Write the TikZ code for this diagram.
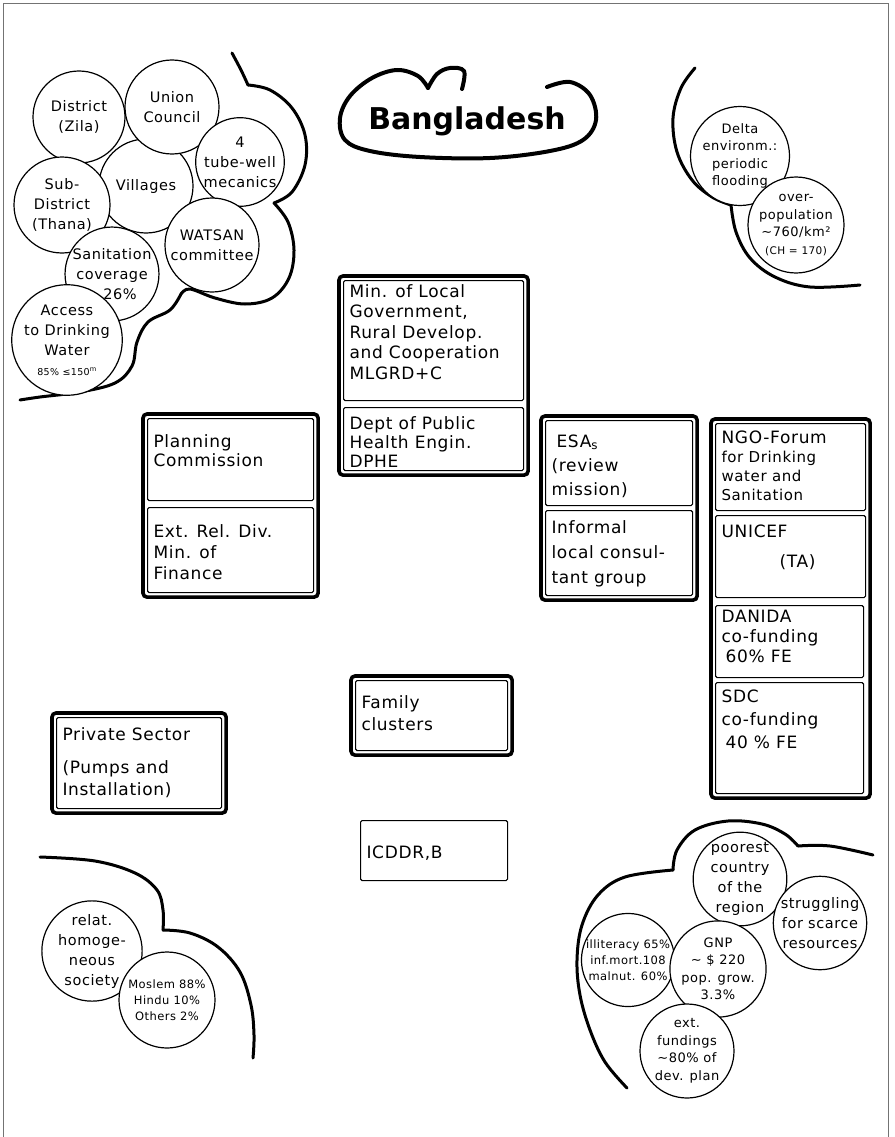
\documentclass[tikz,border=0pt]{standalone}
\usepackage{fontspec}
\setmainfont{DejaVu Sans}[LetterSpace=4]
\newfontfamily\titlefont{DejaVu Sans}
\usetikzlibrary{fit}

\newcommand{\boxfont}{\fontsize{17}{20.5}\selectfont}
\newcommand{\bubfont}{\fontsize{14.5}{20}\selectfont}
\newcommand{\smallbubfont}{\fontsize{13}{17.5}\selectfont}
\newcommand{\tinybubfont}{\fontsize{11.5}{16}\selectfont}
\newcommand{\lsk}[1]{\fontsize{17}{#1}\selectfont}

% a thin box with top-aligned text: name, x, y, width, height, top skip, text
\newcommand{\boxcell}[7]{%
  \node[cell] (#1) at (#2,#3)
    {\parbox[t][\dimexpr #5pt-8pt\relax][t]{\dimexpr #4pt-12pt\relax}{\raggedright\vspace*{#6pt}#7}};}

\begin{document}
\begin{tikzpicture}[x=1pt, y=-1pt,
  cell/.style={draw, line width=1.1pt, rounded corners=1.5pt, anchor=north west,
               inner xsep=6pt, inner ysep=4pt, font=\boxfont},
  frame/.style={draw, line width=3.6pt, rounded corners=4pt, inner sep=4pt},
  bub/.style={circle, draw, fill=white, line width=1.2pt, inner sep=0pt,
              align=center, font=\bubfont},
  cloudline/.style={line width=3pt, line cap=round, line join=round},
  titleline/.style={line width=4pt, line cap=round, line join=round},
  pageedge/.style={line width=0.8pt, black!55}]

\useasboundingbox (0,0) rectangle (894,1137);

% sheet edge
\draw[pageedge] (3,1137) -- (3,3) -- (888,3) -- (888,1137);

% ---- title ----
\draw[titleline] plot[smooth, tension=0.6] coordinates {
  (547,87) (570,82) (590,95) (596,120) (583,140) (550,151) (490,158)
  (420,157) (370,151) (345,140) (340,118) (350,96) (372,78) (397,70)
  (418,76) (428,88)};
\draw[titleline] plot[smooth, tension=0.6] coordinates {
  (428,88) (437,74) (450,68) (464,71) (462,89)};
\node[font=\titlefont\bfseries\fontsize{30}{30}\selectfont] (title) at (467,121) {Bangladesh};

% ---- cloud outlines ----
% upper left
\draw[cloudline] plot[smooth, tension=0.6] coordinates {(232,53) (241,70) (248,85)};
\draw[cloudline] plot[smooth, tension=0.6] coordinates {
  (248,85) (270,90) (292,108) (305,135) (305,165) (292,192) (274,203)};
\draw[cloudline] plot[smooth, tension=0.6] coordinates {
  (274,203) (288,222) (294,250) (289,278) (272,298) (245,304) (215,298) (190,289) (181,294)};
\draw[cloudline] plot[smooth, tension=0.6] coordinates {
  (181,294) (170,310) (148,322) (137,342) (132,366) (115,383) (80,392) (40,397) (20,400)};
% upper right
\draw[cloudline] plot[smooth, tension=0.6] coordinates {
  (695,68) (681,88) (673,118) (677,152) (692,180) (712,197) (731,205)};
\draw[cloudline] plot[smooth, tension=0.6] coordinates {
  (731,205) (736,232) (750,258) (775,277) (810,287) (860,285)};
% lower left
\draw[cloudline] plot[smooth, tension=0.6] coordinates {
  (40,857) (95,861) (135,873) (157,890) (163,910) (163,930)};
\draw[cloudline] plot[smooth, tension=0.6] coordinates {
  (163,930) (190,933) (218,947) (240,972) (251,1005) (254,1035) (253,1058)};
% lower right
\draw[cloudline] plot[smooth, tension=0.6] coordinates {
  (627,1088) (605,1062) (590,1030) (580,995) (577,960) (582,925) (598,895) (625,877) (673,870)};
\draw[cloudline] plot[smooth, tension=0.6] coordinates {
  (673,870) (677,850) (695,830) (728,821) (762,824) (785,834) (798,846)};
\draw[cloudline] plot[smooth, tension=0.6] coordinates {
  (798,846) (830,846) (873,855)};

% ---- local level circles ----
\node[bub, minimum size=94pt] (villages) at (146,186) {Villages};
\node[bub, minimum size=92pt] (district) at (79,117) {District\\(Zila)};
\node[bub, minimum size=94pt] (union) at (172,107) {Union\\Council};
\node[bub, minimum size=86pt] (tubewell) at (240,162) {4\\tube-well\\mecanics};
\node[bub, minimum size=96pt] (subdistrict) at (62,205) {Sub-\\District\\(Thana)};
\node[bub, minimum size=94pt] (watsan) at (212,245) {WATSAN\\committee};
\node[bub, minimum size=90pt] (sanitation) at (112,274) {Sanitation\\coverage\\\hspace*{16pt}26\%};
\node[bub, minimum size=94pt] (access) at (67,340)
  {Access\\to Drinking\\Water\\{\fontsize{9.5}{11}\selectfont 85\% ≤150\textsuperscript{m}}};

% ---- environment circles ----
\node[bub, minimum size=88pt, font=\smallbubfont] (delta) at (740,156)
  {Delta\\environm.:\\periodic\\flooding};
\node[bub, minimum size=88pt, font=\smallbubfont] (overpop) at (796,225)
  {over-\\population\\\textasciitilde760/km²\\{\fontsize{10.5}{14}\selectfont (CH = 170)}};

% ---- society circles ----
\node[bub, minimum size=92pt] (relat) at (92,951) {relat.\\homoge-\\neous\\society};
\node[bub, minimum size=96pt, font=\tinybubfont] (religion) at (167,1000)
  {Moslem 88\%\\Hindu 10\%\\Others 2\%};

% ---- economy circles ----
\node[bub, minimum size=92pt] (poorest) at (740,879) {poorest\\country\\of the\\region};
\node[bub, minimum size=92pt] (struggling) at (820,923) {struggling\\for scarce\\resources};
\node[bub, minimum size=92pt, font=\tinybubfont] (illiteracy) at (628,960)
  {illiteracy 65\%\\inf.mort.108\\malnut. 60\%};
\node[bub, minimum size=96pt, font=\smallbubfont] (gnp) at (718,969)
  {GNP\\\textasciitilde\ \$ 220\\pop. grow.\\3.3\%};
\node[bub, minimum size=94pt, font=\smallbubfont] (extfund) at (687,1051)
  {ext.\\fundings\\\textasciitilde80\% of\\dev. plan};

% ---- institution boxes ----
\boxcell{mlgrd}{343}{280}{180}{120}{0}{\lsk{20.5}Min. of Local\\Government,\\Rural Develop.\\and Cooperation\\MLGRD+C}
\boxcell{dphe}{343}{407}{180}{63}{5}{\lsk{19}Dept of Public\\Health Engin.\\DPHE}
\boxcell{planning}{147}{418}{166}{82}{12}{\lsk{19}Planning\\Commission}
\boxcell{extrel}{147}{507}{166}{85}{13}{\lsk{21}Ext. Rel. Div.\\Min. of\\Finance}
\boxcell{esa}{545}{420}{147}{85}{10}{\lsk{24}\hspace*{5pt}ESA\textsubscript{s}\\(review\\mission)}
\boxcell{informal}{545}{510}{147}{85}{6}{\lsk{25}Informal\\local consul-\\tant group}
\boxcell{ngo}{715}{423}{150}{87}{3}{\fontsize{15}{19}\selectfont{\fontsize{17}{19}\selectfont NGO-Forum}\\for Drinking\\water and\\Sanitation}
\boxcell{unicef}{715}{515}{150}{82}{5}{\lsk{30}UNICEF\\\hspace*{58pt}(TA)}
\boxcell{danida}{715}{605}{148}{72}{1}{\lsk{20}DANIDA\\co-funding\\\hspace*{4pt}60\% FE}
\boxcell{sdc}{715}{682}{148}{111}{3}{\lsk{23}SDC\\co-funding\\\hspace*{4pt}40 \% FE}
\boxcell{private}{56}{717}{165}{91}{6}{\lsk{22}Private Sector\\[11pt](Pumps and\\Installation)}
\boxcell{family}{355}{680}{152}{70}{11}{\lsk{22}Family\\clusters}
\boxcell{icddr}{360}{820}{147}{60}{21}{ICDDR,B}

% heavy frames grouping the boxes
\node[frame, fit=(mlgrd)(dphe)] (govgroup) {};
\node[frame, fit=(planning)(extrel)] (plangroup) {};
\node[frame, fit=(esa)(informal)] (esagroup) {};
\node[frame, fit=(ngo)(unicef)(danida)(sdc)] (donorgroup) {};
\node[frame, fit=(private)] (privategroup) {};
\node[frame, fit=(family)] (familygroup) {};

\end{tikzpicture}
\end{document}
